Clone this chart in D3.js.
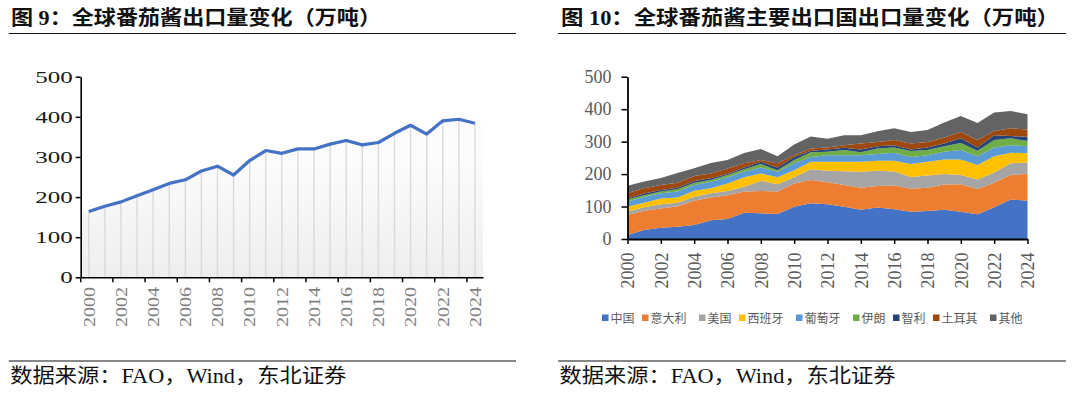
<!DOCTYPE html>
<html>
<head>
<meta charset="utf-8">
<script src="https://cdn.jsdelivr.net/npm/d3@7"></script>
<style>
body{margin:0;background:#fff;}
svg{display:block;}
</style>
</head>
<body>
<script>
// data (万吨)
const years=d3.range(2000,2025);
const yTicks=[0,100,200,300,400,500];
const evenYears=years.filter(y=>y%2===0);
const worldExport=[164,177,188,203,218,234,243,265,277,255,291,316,309,320,320,332,341,330,336,359,379,357,390,394,384];

const countries=['中国','意大利','美国','西班牙','葡萄牙','伊朗','智利','土耳其','其他'];
const china   =[12,28,35,38,43,58,62,81,79,77,99,110,107,99,90,97,92,84,86,90,84,76,98,122,118];
const italy   =[62,59,59,63,75,70,73,65,69,69,72,72,68,67,68,66,73,71,72,78,85,78,75,76,82];
const usa     =[10,11,13,11,12,13,13,15,31,23,19,33,35,43,49,47,43,36,38,32,28,29,32,35,36];
const spain   =[15,14,18,16,19,15,23,29,23,21,22,23,28,29,31,31,33,40,42,45,48,45,50,33,28];
const portugal=[16,18,16,18,17,20,19,17,18,17,21,15,20,20,20,21,25,22,20,24,29,27,27,23,22];
const iran    =[7,5,5,7,7,6,7,8,11,5,10,14,11,16,9,17,16,18,16,17,22,17,23,21,16];
const chile   =[3,5,5,5,6,5,3,5,7,8,10,5,7,7,9,7,7,5,8,8,14,10,15,7,13];
const turkey  =[17,16,15,15,15,15,17,13,5,13,5,7,6,8,18,13,16,18,17,19,20,23,13,24,22];
const others  =[22,21,22,30,24,32,26,32,34,22,33,37,27,31,26,33,36,36,37,46,49,52,57,53,47];
const colors=['#4472C4','#ED7D31','#A5A5A5','#FFC000','#5B9BD5','#70AD47','#264478','#9E480E','#636363'];

const series=[china,italy,usa,spain,portugal,iran,chile,turkey,others];
const table=years.map((y,i)=>{
    let row={year:y};
    countries.forEach((c,k)=>row[c]=series[k][i]);
    return row;
});

const serif='"Liberation Serif","Times New Roman",serif';
const cjkSerif='"Liberation Serif","Noto Sans CJK SC",serif';

const svg=d3.select('body').append('svg').attr('width',1080).attr('height',395);

// headers & footers
const titles=[
    {x:11,w:370,t:'图 9：全球番茄酱出口量变化（万吨）',l0:8.7,l1:516},
    {x:561,w:498,t:'图 10：全球番茄酱主要出口国出口量变化（万吨）',l0:558,l1:1066}
];
titles.forEach(d=>{
    svg.append('text').attr('x',d.x).attr('y',25).text(d.t)
        .attr('font-family',cjkSerif).attr('font-size','20px').attr('font-weight','bold')
        .attr('fill','#111').attr('textLength',d.w).attr('lengthAdjust','spacingAndGlyphs');
    svg.append('line').attr('x1',d.l0).attr('x2',d.l1).attr('y1',33.5).attr('y2',33.5).attr('stroke','#111').attr('stroke-width',1.2);
    svg.append('line').attr('x1',d.l0).attr('x2',d.l1).attr('y1',361).attr('y2',361).attr('stroke','#111').attr('stroke-width',1.2);
    svg.append('text').attr('x',d.l0+1.5).attr('y',383).text('数据来源：FAO，Wind，东北证券')
        .attr('font-family',cjkSerif).attr('font-size','20px').attr('fill','#111')
        .attr('textLength',336).attr('lengthAdjust','spacingAndGlyphs');
});

/* ---------- left: world export line ---------- */
const xL=d3.scaleBand().domain(years).range([80.7,483]);
const yL=d3.scaleLinear().domain([0,500]).range([277.3,76.7]);
const bw=xL.bandwidth();

const grad=svg.append('defs').append('linearGradient').attr('id','fade')
    .attr('gradientUnits','userSpaceOnUse').attr('x1',0).attr('x2',0).attr('y1',yL(500)).attr('y2',yL(0));
grad.append('stop').attr('offset','0%').attr('stop-color','#ffffff');
grad.append('stop').attr('offset','45%').attr('stop-color','#fbfbfb');
grad.append('stop').attr('offset','100%').attr('stop-color','#eeeeee');

let fillPts=years.map((y,i)=>[xL(y)+bw/2,worldExport[i]]);
fillPts=[[xL.range()[0],worldExport[0]]].concat(fillPts,[[xL.range()[1],worldExport[worldExport.length-1]]]);
svg.append('path').datum(fillPts)
    .attr('d',d3.area().x(d=>d[0]).y0(yL(0)).y1(d=>yL(d[1])))
    .attr('fill','url(#fade)');

svg.append('g').selectAll('line').data(years).join('line')
    .attr('x1',d=>xL(d)+bw/2).attr('x2',d=>xL(d)+bw/2)
    .attr('y1',(d,i)=>yL(worldExport[i])).attr('y2',yL(0))
    .attr('stroke','#dadada').attr('stroke-width',1.4);

svg.append('path').datum(worldExport)
    .attr('d',d3.line().x((d,i)=>xL(years[i])+bw/2).y(d=>yL(d)))
    .attr('fill','none').attr('stroke','#4472C4').attr('stroke-width',3.2).attr('stroke-linejoin','round');

const axYL=svg.append('g').attr('transform','translate('+xL.range()[0]+',0)')
    .call(d3.axisLeft(yL).tickValues(yTicks).tickSize(5).tickSizeOuter(0).tickPadding(3));
axYL.selectAll('text').attr('font-family',serif).attr('font-size','17px').attr('fill','#1a1a1a')
    .attr('textLength',d=>String(d).length*12.5).attr('lengthAdjust','spacingAndGlyphs');

const axXL=svg.append('g').attr('transform','translate(0,'+yL(0)+')')
    .call(d3.axisBottom(xL).tickValues(evenYears).tickSize(0).tickSizeOuter(0));
axXL.selectAll('text').attr('transform','rotate(-90)').attr('text-anchor','end')
    .attr('x',-9.7).attr('y',0).attr('dy','0.36em')
    .attr('font-family',serif).attr('font-size','16px').attr('fill','#7f7f7f')
    .attr('textLength',40).attr('lengthAdjust','spacingAndGlyphs');
axXL.selectAll('.tick').append('line').attr('x1',-bw/2).attr('x2',-bw/2).attr('y1',0).attr('y2',5).attr('stroke','#000').attr('stroke-width',1.5);
[axYL,axXL].forEach(a=>{a.select('.domain').attr('stroke','#000').attr('stroke-width',1.6);a.selectAll('.tick line').attr('stroke','#000').attr('stroke-width',1.5);});

/* ---------- right: stacked area by country ---------- */
const xR=d3.scalePoint().domain(years).range([627.5,1027.5]);
const yR=d3.scaleLinear().domain([0,500]).range([239,76.7]);
const stacked=d3.stack().keys(countries)(table);

svg.append('g').selectAll('path').data(stacked).join('path')
    .attr('d',d3.area().x(d=>xR(d.data.year)).y0(d=>yR(d[0])).y1(d=>yR(d[1])))
    .attr('fill',(d,i)=>colors[i]);

const axYR=svg.append('g').attr('transform','translate('+xR.range()[0]+',0)')
    .call(d3.axisLeft(yR).tickValues(yTicks).tickSize(6).tickSizeOuter(0).tickPadding(10));
axYR.selectAll('text').attr('font-family',serif).attr('font-size','18px').attr('fill','#595959');

const axXR=svg.append('g').attr('transform','translate(0,'+yR(0)+')')
    .call(d3.axisBottom(xR).tickValues(evenYears).tickSize(5).tickSizeOuter(0));
axXR.selectAll('text').attr('transform','rotate(-90)').attr('text-anchor','end')
    .attr('x',-13.5).attr('y',0).attr('dy','0.36em')
    .attr('font-family',serif).attr('font-size','18px').attr('fill','#595959');
[axYR,axXR].forEach(a=>{a.select('.domain').attr('stroke','#000').attr('stroke-width',1.8);a.selectAll('.tick line').attr('stroke','#000').attr('stroke-width',1.5);});

// legend
let lx=602;
countries.forEach((c,i)=>{
    svg.append('rect').attr('x',lx).attr('y',314.5).attr('width',6.5).attr('height',6.5).attr('fill',colors[i]);
    svg.append('text').attr('x',lx+8.5).attr('y',322.5).text(c)
        .attr('font-family','"Noto Sans CJK SC",sans-serif').attr('font-size','12px').attr('fill','#595959');
    lx+=6+17*c.length;
});
</script>
</body>
</html>
